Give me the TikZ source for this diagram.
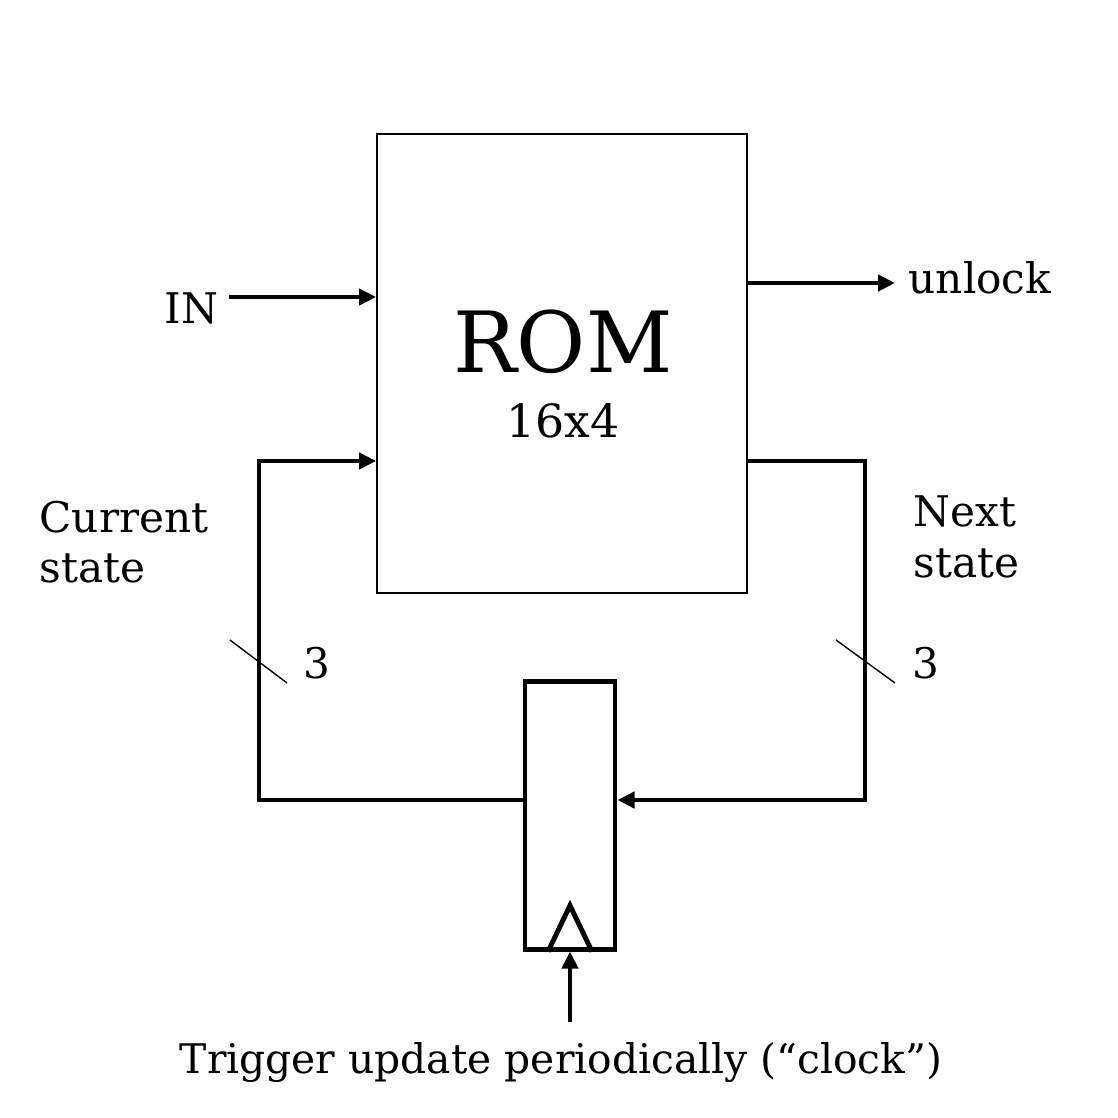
\documentclass[tikz,border=0pt]{standalone}
\usepackage{fontspec}
\setmainfont{DejaVu Serif}
\usetikzlibrary{arrows.meta}

\tikzset{
    wire/.style={line width=1.4pt},
    arr/.style={wire,-{Triangle[length=0.17cm,width=0.16cm]}},
    lbl/.style={font=\fontsize{12}{14.4}\selectfont, inner sep=0pt},
}

\begin{document}
\begin{tikzpicture}[x=0.01cm,y=-0.01cm]
    % \draw[help lines] (0,0) grid (1118,1118);
    \useasboundingbox (0,0) rectangle (1118,1118);

    \node[draw, line width=0.45pt, minimum width=3.7cm, minimum height=4.59cm] (rom) at (562,363.5) {};
    \node[draw, wire, minimum width=0.9cm, minimum height=2.67cm] (reg) at (570,815.5) {};

    \node[anchor=base, inner sep=0pt, font=\fontsize{24}{28}\selectfont] (romname) at (563,372) {ROM};
    \node[anchor=base, lbl, font=\fontsize{13}{15}\selectfont] (romsize) at (563,437) {16x4};

    \node[anchor=base west, lbl] (in) at (164,323) {IN};
    \node[anchor=base west, lbl] (unlock) at (908,293) {unlock};
    \node[anchor=north west, lbl, align=left] (cur) at (39,500) {Current\\state};
    \node[anchor=north west, lbl, align=left] (next) at (913,495) {Next\\state};
    \node[anchor=base west, lbl] (bitsL) at (303,678) {3};
    \node[anchor=base west, lbl] (bitsR) at (912,678) {3};
    \node[anchor=base, lbl, font=\fontsize{11.6}{14}\selectfont] (clock) at (561,1073) {Trigger update periodically (“clock”)};

    \coordinate (inS) at (229,297);
    \coordinate (outE) at (895,283);
    \coordinate (cornL) at (259,461);
    \coordinate (cornR) at (865,461);
    \coordinate (clkS) at (570,1022);

    \draw[arr] (inS) -- (inS -| rom.west);
    \draw[arr] (outE -| rom.east) -- (outE);
    \draw[arr] (reg.west |- 0,800) -- (cornL |- 0,800) -- (cornL) -- (cornL -| rom.west);
    \draw[arr] (cornR -| rom.east) -- (cornR) -- (cornR |- 0,800) -- (reg.east |- 0,800);
    \draw[arr] (clkS) -- (reg.south);

    \draw[wire] ([xshift=-0.22cm]reg.south) -- ([yshift=0.46cm]reg.south) -- ([xshift=0.22cm]reg.south);

    \draw[line width=0.4pt] (230,640) -- (287,683);
    \draw[line width=0.4pt] (836,640) -- (895,683);
\end{tikzpicture}
\end{document}
